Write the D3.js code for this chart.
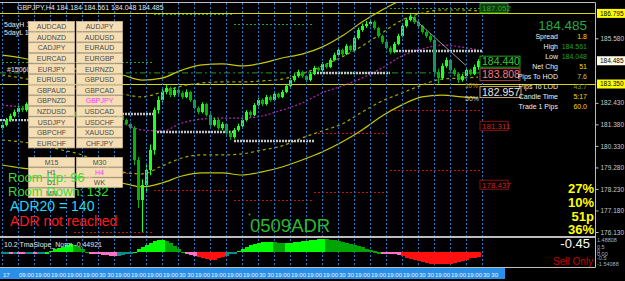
<!DOCTYPE html>
<html>
<head>
<meta charset="utf-8">
<script src="https://cdn.jsdelivr.net/npm/d3@7"></script>
<style>
  html, body { margin: 0; padding: 0; background: #000; }
  svg { display: block; font-family: "Liberation Sans", Arial, sans-serif; }
</style>
</head>
<body>
<div id="chart"></div>
<script>
// ---- data ----
const opens = [
  181.20,181.35,181.59,181.79,181.98,182.18,182.08,182.37,182.57,182.42,
  182.67,182.81,182.62,182.37,182.18,182.33,182.08,181.89,181.98,181.74,
  181.94,181.69,181.50,181.64,181.45,181.59,181.40,181.55,181.69,181.50,
  181.79,181.59,181.40,181.20,179.64,177.69,178.42,179.15,180.13,182.08,
  182.57,182.96,183.15,182.81,183.06,182.91,182.72,182.96,182.57,182.18,
  181.98,182.37,181.84,181.35,181.59,181.20,181.40,180.96,180.76,181.11,
  181.30,181.59,181.98,181.84,182.33,182.57,182.37,182.72,182.57,182.86,
  182.72,182.96,183.25,183.54,183.74,183.93,183.74,183.54,183.84,184.13,
  184.03,184.32,184.18,184.52,184.76,185.01,184.81,185.20,185.01,185.59,
  185.98,186.18,186.28,186.37,186.08,185.69,185.40,185.11,184.91,185.30,
  185.69,186.18,186.47,186.62,186.37,186.18,185.88,185.69,185.50,183.93,
  183.64,184.23,184.52,184.03,183.84,183.54,183.74,184.03,183.84,184.184
];
const highs = [
  181.48,181.70,181.90,182.10,182.30,182.28,182.45,182.70,182.66,182.78,
  182.95,182.88,182.68,182.45,182.42,182.38,182.15,182.08,182.02,182.03,
  181.99,181.76,181.73,181.70,181.68,181.63,181.62,181.78,181.74,181.88,
  181.85,181.66,181.47,181.30,179.80,178.70,179.40,180.40,182.20,182.75,
  183.10,183.30,183.22,183.18,183.14,183.00,183.08,183.02,182.64,182.26,
  182.46,182.42,181.92,181.70,181.66,181.50,181.46,181.05,181.20,181.42,
  181.68,182.08,182.06,182.42,182.68,182.64,182.82,182.80,182.95,182.93,
  183.06,183.36,183.65,183.86,184.05,184.00,183.80,183.94,184.24,184.20,
  184.42,184.38,184.62,184.88,185.12,185.08,185.30,185.26,185.70,186.10,
  186.30,186.42,186.52,186.45,186.14,185.76,185.48,185.20,185.40,185.80,
  186.28,186.58,186.76,186.70,186.44,186.24,185.96,185.78,185.58,184.10,
  184.36,184.64,184.58,184.12,183.90,183.84,184.14,184.10,184.30,184.561
];
const lows = [
  181.12,181.28,181.50,181.72,181.90,181.98,182.00,182.30,182.35,182.38,
  182.60,182.55,182.30,182.10,182.12,182.00,181.80,181.82,181.66,181.70,
  181.60,181.42,181.44,181.38,181.40,181.33,181.35,181.50,181.44,181.46,
  181.52,181.33,181.12,179.40,177.30,176.13,178.10,178.90,179.90,181.90,
  182.45,182.85,182.70,182.72,182.80,182.62,182.66,182.48,182.10,181.88,
  181.92,181.76,181.26,181.28,181.12,181.10,180.88,180.62,180.68,181.02,
  181.24,181.52,181.74,181.78,182.26,182.28,182.30,182.48,182.50,182.64,
  182.66,182.90,183.18,183.46,183.66,183.65,183.44,183.48,183.78,183.94,
  183.96,184.10,184.12,184.46,184.70,184.72,184.76,184.92,184.95,185.52,
  185.90,186.08,186.20,186.00,185.60,185.30,185.02,184.80,184.85,185.24,
  185.62,186.10,186.40,186.28,186.08,185.80,185.60,185.40,183.80,183.36,
  183.56,184.14,183.94,183.74,183.40,183.46,183.66,183.76,183.78,184.048
];
const closes = [
  181.35,181.59,181.79,181.98,182.18,182.08,182.37,182.57,182.42,182.67,
  182.81,182.62,182.37,182.18,182.33,182.08,181.89,181.98,181.74,181.94,
  181.69,181.50,181.64,181.45,181.59,181.40,181.55,181.69,181.50,181.79,
  181.59,181.40,181.20,179.64,177.69,178.42,179.15,180.13,182.08,182.57,
  182.96,183.15,182.81,183.06,182.91,182.72,182.96,182.57,182.18,181.98,
  182.37,181.84,181.35,181.59,181.20,181.40,180.96,180.76,181.11,181.30,
  181.59,181.98,181.84,182.33,182.57,182.37,182.72,182.57,182.86,182.72,
  182.96,183.25,183.54,183.74,183.93,183.74,183.54,183.84,184.13,184.03,
  184.32,184.18,184.52,184.76,185.01,184.81,185.20,185.01,185.59,185.98,
  186.18,186.28,186.37,186.08,185.69,185.40,185.11,184.91,185.30,185.69,
  186.18,186.47,186.62,186.37,186.18,185.88,185.69,185.50,183.93,183.64,
  184.23,184.52,184.03,183.84,183.54,183.74,184.03,183.84,184.18,184.485
];

// TMA bands, sampled at these bar indexes
const bandIdx = [0,5,10,15,20,25,30,35,40,45,50,55,60,65,70,75,80,85,90,95,100,105,110,115,119];
const bandUpper = [184.76,184.62,184.42,184.23,184.03,183.89,183.79,183.54,183.64,184.03,184.28,184.33,184.23,184.37,184.62,184.81,185.15,185.69,186.37,186.96,187.45,187.74,188.08,188.33,188.52];
const bandUpperMid = [183.79,183.64,183.45,183.25,183.06,182.96,182.86,182.72,182.96,183.25,183.40,183.45,183.45,183.50,183.59,183.84,184.23,184.67,185.20,185.84,186.47,186.81,186.96,186.96,186.91];
const bandMid = [182.33,182.23,182.18,182.08,181.94,181.74,181.45,181.11,181.06,181.45,181.64,181.69,181.69,181.79,182.08,182.42,182.91,183.25,183.64,184.13,184.72,185.06,185.25,185.15,185.01];
const bandLowerMid = [180.62,180.52,180.37,180.13,179.89,179.40,179.06,178.96,179.35,179.74,179.89,179.89,179.94,180.13,180.33,180.72,181.06,181.40,181.98,182.52,182.91,183.30,183.59,183.64,183.69];
const bandLower = [179.40,179.25,179.15,179.01,178.86,178.67,178.52,178.33,178.52,178.86,179.01,179.01,178.91,179.06,179.30,179.64,180.03,180.52,181.11,181.79,182.33,182.72,182.81,182.72,182.67];

// period levels: segment borders in bars, one set of levels per segment
const segBounds = [-2, 18, 38, 58, 78, 97, 120];
const grayLevels = [181.59, 181.89, 181.01, 180.57, 183.89, 184.96];
const redLevels = [[], [179.01, 176.13], [178.18], [177.69], [180.96, 178.08], [182.08, 179.15]];
const greenLevels = [[184.42], [184.42], [186.76], [186.28], [], [187.05]];
const fullLines = [186.795, 183.350];
const pivotLine = 183.89;
const trendLine = [[102.5, 186.62], [116, 184.25]];

const boxPrices = [187.052, 184.440, 183.808, 182.957, 181.311, 178.437];
const priceTicks = [176.130, 177.180, 178.230, 179.280, 180.330, 181.380, 182.430, 185.580];
const markedPrices = [186.795, 184.485, 183.350];

// TmaSlope_Norm histogram
const slope = [
  -0.15,-0.12,-0.18,-0.10,-0.14,-0.20,-0.16,-0.10,-0.13,-0.08,
  -0.05,0.02,0.15,0.30,0.45,0.60,0.75,0.85,0.80,0.55,
  0.30,0.05,-0.08,-0.15,-0.20,-0.25,-0.30,-0.35,-0.38,-0.35,
  -0.30,-0.20,-0.10,0.05,0.30,0.55,0.80,1.00,1.15,1.25,
  1.30,1.20,1.00,0.70,0.35,0.05,-0.15,-0.25,-0.35,-0.45,
  -0.60,-0.75,-0.85,-0.80,-0.65,-0.50,-0.35,-0.20,-0.05,0.15,
  0.35,0.55,0.75,0.90,1.00,1.05,1.10,1.10,1.05,1.00,
  0.95,0.95,1.00,1.05,1.10,1.15,1.20,1.25,1.30,1.35,
  1.38,1.35,1.30,1.25,1.20,1.10,1.00,0.90,0.80,0.65,
  0.50,0.35,0.20,0.10,0.02,-0.05,-0.12,-0.18,-0.22,-0.28,
  -0.40,-0.55,-0.70,-0.85,-0.95,-1.05,-1.12,-1.18,-1.22,-1.25,
  -1.25,-1.22,-1.18,-1.10,-1.00,-0.90,-0.78,-0.65,-0.55,-0.45
];
const slopeLabels = ["1.48808", "0.5", "0", "0.00", "-0.5", "-1.54088"];
const slopeLabelValues = [1.3, 0.55, 0.15, -0.2, -0.65, -1.25];

const timeLabels = ["17","09:00","19:00","19:00","19:00","19:00","30 30","19:00","19:00","19:00",
  "19:00","30 30","19:00","19:00","19:00","19:00","30 30","19:00","19:00","19:00",
  "19:00","30 30","19:00","19:00","19:00","19:00","30 30","19:00","19:00","19:00","30 30"];

const pairsLeft = ["AUDCAD","AUDNZD","CADJPY","EURCAD","EURJPY","EURUSD","GBPAUD","GBPNZD","NZDUSD","USDJPY","GBPCHF","EURCHF"];
const pairsRight = ["AUDJPY","AUDUSD","EURAUD","EURGBP","EURNZD","GBPUSD","GBPCAD","GBPJPY","USDCAD","USDCHF","XAUUSD","CHFJPY"];
const tfLeft = ["M15","H1","D1","MN"];
const tfRight = ["M30","H4","WK"];
const activePair = "GBPJPY", activeTf = "H4";

const infoLabels = ["Spread","High","Low","Net Chg","Pips To HOD","Pips To LOD","Candle Time","Trade 1 Pips"];
const infoValues = ["1.8","184.561","184.048","51","7.6","43.7","5:17","60.0"];
const statTexts = ["Room Up: 96","Room Down: 132","ADR20 = 140","ADR not reached"];
const pctTexts = ["27%","10%","51p","36%"];

// ---- drawing ----
const W = 625, H = 281;
const svg = d3.select('#chart').append('svg').attr('width', W).attr('height', H);
svg.append('rect').attr('width', W).attr('height', H).attr('fill', '#000');

const defs = svg.append('defs');
defs.append('clipPath').attr('id', 'clipMain')
  .append('rect').attr('x', 0).attr('y', 3).attr('width', 595).attr('height', 234);
defs.append('clipPath').attr('id', 'clipInd')
  .append('rect').attr('x', 0).attr('y', 238).attr('width', 595).attr('height', 29);

const x = d3.scaleLinear().domain([0, closes.length - 1]).range([2, 478]);
const y = d3.scaleLinear().domain([176.13, 185.58]).range([232, 38.3]);
const yInd = d3.scaleLinear().domain([-1.54088, 1.48808]).range([267, 238]);

const main = svg.append('g').attr('clip-path', 'url(#clipMain)');

// vertical dotted grid (through both panes)
const gridBars = d3.range(0, closes.length + 1, 4);
svg.append('g').selectAll('line').data(gridBars).join('line')
  .attr('x1', d => Math.round(x(d)) + 0.5).attr('x2', d => Math.round(x(d)) + 0.5)
  .attr('y1', 3).attr('y2', 267)
  .attr('stroke', '#2277cc').attr('stroke-width', 1).attr('stroke-dasharray', '2,2');

// full-width yellow levels
main.selectAll('.full').data(fullLines).join('line')
  .attr('x1', 0).attr('x2', 595)
  .attr('y1', d => Math.round(y(d)) + 0.5).attr('y2', d => Math.round(y(d)) + 0.5)
  .attr('stroke', '#d8d800').attr('stroke-width', 1.2);

// pivot dash-dot
main.append('line').attr('x1', 0).attr('x2', x(119) + 2)
  .attr('y1', y(pivotLine)).attr('y2', y(pivotLine))
  .attr('stroke', '#1f7a1f').attr('stroke-width', 1.2).attr('stroke-dasharray', '6,3,2,3');

// period segments
function segLines(levelsPerSeg, stroke, width, dash) {
  const rows = [];
  levelsPerSeg.forEach((lv, k) => lv.forEach(p => rows.push({ k, p })));
  main.append('g').selectAll('line').data(rows).join('line')
    .attr('x1', d => x(segBounds[d.k])).attr('x2', d => x(segBounds[d.k + 1]))
    .attr('y1', d => Math.round(y(d.p)) + 0.5).attr('y2', d => Math.round(y(d.p)) + 0.5)
    .attr('stroke', stroke).attr('stroke-width', width).attr('stroke-dasharray', dash);
}
segLines(redLevels, '#c81414', 1.2, '2,2');
segLines(greenLevels, '#24a524', 1.2, '2,2');

// bands
const bandLine = vals => d3.line()
  .x((d, i) => x(bandIdx[i])).y(d => y(d)).curve(d3.curveMonotoneX)(vals);
const bands = [
  { v: bandUpper, dash: null, c: '#c8c800' },
  { v: bandUpperMid, dash: '3,3', c: '#a8a800' },
  { v: bandMid, dash: '2,2', c: '#c020c0' },
  { v: bandLowerMid, dash: '3,3', c: '#a8a800' },
  { v: bandLower, dash: null, c: '#c8c800' }
];
main.append('g').selectAll('path').data(bands).join('path')
  .attr('d', d => bandLine(d.v)).attr('fill', 'none')
  .attr('stroke', d => d.c).attr('stroke-width', 1.2)
  .attr('stroke-dasharray', d => d.dash);

// gray period opens
main.append('g').selectAll('line').data(grayLevels).join('line')
  .attr('x1', (d, k) => x(segBounds[k])).attr('x2', (d, k) => x(segBounds[k + 1]))
  .attr('y1', d => y(d)).attr('y2', d => y(d))
  .attr('stroke', '#c4c4c4').attr('stroke-width', 2.4).attr('stroke-dasharray', '2,1');

// candles
const bars = closes.map((c, i) => ({ i, o: opens[i], h: highs[i], l: lows[i], c }));
const candle = main.append('g').selectAll('g').data(bars).join('g');
candle.append('line')
  .attr('x1', d => Math.round(x(d.i)) + 0.5).attr('x2', d => Math.round(x(d.i)) + 0.5)
  .attr('y1', d => y(d.h)).attr('y2', d => y(d.l))
  .attr('stroke', d => d.c >= d.o ? '#22ff22' : '#00b400');
candle.append('rect')
  .attr('x', d => Math.round(x(d.i)) - 1).attr('width', 3)
  .attr('y', d => y(Math.max(d.o, d.c)))
  .attr('height', d => Math.max(1, Math.abs(y(d.o) - y(d.c))))
  .attr('fill', d => d.c >= d.o ? '#22ff22' : '#00b400')
  .attr('shape-rendering', 'crispEdges');

// trend line
main.append('line')
  .attr('x1', x(trendLine[0][0])).attr('y1', y(trendLine[0][1]))
  .attr('x2', x(trendLine[1][0])).attr('y2', y(trendLine[1][1]))
  .attr('stroke', '#9a9a9a').attr('stroke-width', 1);

// right-side price boxes
const boxStyle = [
  { fill: '#0e3a0e', stroke: '#1f8f1f', color: '#2bb02b', size: 8, w: 28, h: 9 },
  { fill: '#000', stroke: '#1fa01f', color: '#33cc33', size: 10.5, w: 40, h: 11 },
  { fill: '#000', stroke: '#a04848', color: '#ff7878', size: 10.5, w: 40, h: 12 },
  { fill: '#000', stroke: '#c8a878', color: '#e8e8e8', size: 10.5, w: 41, h: 11 },
  { fill: '#000', stroke: '#8b1010', color: '#cc2424', size: 8, w: 28, h: 9 },
  { fill: '#000', stroke: '#8b1010', color: '#cc2424', size: 8, w: 28, h: 9 }
];
const boxG = svg.append('g').selectAll('g').data(boxPrices).join('g')
  .attr('transform', d => `translate(480,${y(d)})`);
boxG.append('rect')
  .attr('x', 0).attr('y', (d, i) => -boxStyle[i].h / 2)
  .attr('width', (d, i) => boxStyle[i].w).attr('height', (d, i) => boxStyle[i].h)
  .attr('fill', (d, i) => boxStyle[i].fill).attr('stroke', (d, i) => boxStyle[i].stroke);
boxG.append('text')
  .attr('x', 2).attr('y', (d, i) => boxStyle[i].size * 0.36)
  .attr('font-size', (d, i) => boxStyle[i].size)
  .attr('fill', (d, i) => boxStyle[i].color)
  .text(d => d3.format('.3f')(d));

svg.append('text').attr('x', 465).attr('y', 88).attr('font-size', 6.5).attr('fill', '#c89a3a').text('10%');
svg.append('text').attr('x', 465).attr('y', 101).attr('font-size', 7).attr('fill', '#c8c8c8').text('50%');

// top-left info
svg.append('text').attr('x', 17).attr('y', 9.5).attr('font-size', 7).attr('fill', '#e6e6e6')
  .text('GBPJPY,H4  184.184 184.561 184.048 184.485');
svg.append('text').attr('x', 4).attr('y', 27).attr('font-size', 7).attr('fill', '#e6e6e6').text('5dayH 186.795');
svg.append('text').attr('x', 4).attr('y', 35).attr('font-size', 7).attr('fill', '#e6e6e6').text('5dayL 176.125');
svg.append('text').attr('x', 7).attr('y', 72).attr('font-size', 7).attr('fill', '#e6e6e6').text('#150600');

// symbol buttons
function buttons(list, x0, y0, rowH, active) {
  const g = svg.append('g').selectAll('g').data(list).join('g')
    .attr('transform', (d, i) => `translate(${x0},${y0 + i * rowH})`);
  g.append('rect').attr('width', 46).attr('height', rowH - 0.8)
    .attr('fill', '#f5deb3').attr('stroke', '#cbb998').attr('stroke-width', 0.8);
  g.append('text').attr('x', 23).attr('y', rowH / 2 + 2.5).attr('text-anchor', 'middle')
    .attr('font-size', 7).attr('fill', d => d === active ? '#ff33ff' : '#4a4a4a').text(d => d);
}
buttons(pairsLeft, 28.5, 21.5, 10.6, activePair);
buttons(pairsRight, 76.5, 21.5, 10.6, activePair);
buttons(tfLeft, 28.5, 157.5, 10.2, activeTf);
buttons(tfRight, 76.5, 157.5, 10.2, activeTf);

// left stats
const statStyle = [
  { c: '#33dd33', s: 13, y: 182 }, { c: '#33dd33', s: 13, y: 196 },
  { c: '#22d8ff', s: 14, y: 211 }, { c: '#ff1a1a', s: 14, y: 226 }
];
svg.append('g').selectAll('text').data(statTexts).join('text')
  .attr('x', (d, i) => i < 2 ? 8 : 10).attr('y', (d, i) => statStyle[i].y)
  .attr('font-size', (d, i) => statStyle[i].s).attr('fill', (d, i) => statStyle[i].c)
  .text(d => d);

svg.append('circle').attr('cx', 249.5).attr('cy', 214.5).attr('r', 1).attr('fill', '#2db82d');
svg.append('text').attr('x', 250).attr('y', 232).attr('font-size', 18.5).attr('fill', '#2db82d').text('0509ADR');

// right info panel
svg.append('text').attr('x', 587).attr('y', 30).attr('text-anchor', 'end')
  .attr('font-size', 13.5).attr('fill', '#27a844').text('184.485');
const valColor = ['#ffd700', '#22a022', '#22a022', '#ffd700', '#d0c060', '#7a9a30', '#ffd700', '#ffd700'];
const infoY = [38.5, 48.5, 58.5, 69, 79, 89, 99, 108.5];
svg.append('g').selectAll('text').data(infoLabels).join('text')
  .attr('x', 558).attr('y', (d, i) => infoY[i]).attr('text-anchor', 'end')
  .attr('font-size', 7).attr('fill', '#eeeeee').text(d => d);
svg.append('g').selectAll('text').data(infoValues).join('text')
  .attr('x', 587).attr('y', (d, i) => infoY[i]).attr('text-anchor', 'end')
  .attr('font-size', 7).attr('fill', (d, i) => valColor[i]).text(d => d);

svg.append('g').selectAll('text').data(pctTexts).join('text')
  .attr('x', 594).attr('y', (d, i) => 193 + i * 13.8).attr('text-anchor', 'end')
  .attr('font-size', 13).attr('font-weight', 'bold').attr('fill', '#ffff00').text(d => d);

// indicator pane
const ind = svg.append('g').attr('clip-path', 'url(#clipInd)');
function slopeColor(v, i) {
  const prev = i > 0 ? slope[i - 1] : v;
  if (v >= 0) return v >= prev ? '#00ff00' : '#00a400';
  if (v < -0.38) return '#ff1010';
  return v < prev ? '#ff70c8' : '#0a8c8c';
}
ind.selectAll('rect').data(slope).join('rect')
  .attr('x', (d, i) => Math.round(x(i)) - 1.5).attr('width', 4)
  .attr('y', d => Math.min(yInd(0), yInd(d)))
  .attr('height', d => Math.max(1.5, Math.abs(yInd(d) - yInd(0))))
  .attr('fill', (d, i) => slopeColor(d, i))
  .attr('shape-rendering', 'crispEdges');
svg.append('text').attr('x', 4).attr('y', 247).attr('font-size', 7).attr('fill', '#e6e6e6')
  .text('10.2 TmaSlope_Norm -0.44921');
svg.append('text').attr('x', 590).attr('y', 248).attr('text-anchor', 'end')
  .attr('font-size', 13).attr('fill', '#ffffff').text('-0.45');
svg.append('text').attr('x', 593).attr('y', 265).attr('text-anchor', 'end')
  .attr('font-size', 10).attr('fill', '#cc0000').text('Sell Only');
svg.append('g').selectAll('text').data(slopeLabels).join('text')
  .attr('x', 597).attr('y', (d, i) => yInd(slopeLabelValues[i]) + 2)
  .attr('font-size', 5.5).attr('fill', '#9fb4c8').text(d => d);

// frame
const frame = svg.append('g').attr('stroke', '#bdbdbd').attr('fill', 'none');
frame.append('line').attr('x1', 0).attr('x2', 595.5).attr('y1', 2.5).attr('y2', 2.5);
frame.append('line').attr('x1', 0).attr('x2', 595.5).attr('y1', 237).attr('y2', 237).attr('stroke-width', 2);
frame.append('line').attr('x1', 0).attr('x2', 595.5).attr('y1', 267.5).attr('y2', 267.5);
frame.append('line').attr('x1', 595.5).attr('x2', 595.5).attr('y1', 2.5).attr('y2', 267.5);

// price axis
const axis = svg.append('g').attr('transform', 'translate(595.5,0)')
  .call(d3.axisRight(y).tickValues(priceTicks).tickSize(3).tickPadding(2).tickFormat(d3.format('.3f')));
axis.select('.domain').remove();
axis.selectAll('line').attr('stroke', '#bdbdbd');
axis.selectAll('text').attr('fill', '#c8c8c8').attr('font-size', 6.5)
  .attr('font-family', '"Liberation Sans", Arial, sans-serif');

const markFill = ['#ffff00', '#fffbe6', '#ffff00'];
const mark = svg.append('g').selectAll('g').data(markedPrices).join('g')
  .attr('transform', d => `translate(597,${y(d)})`);
mark.append('rect').attr('x', 0).attr('y', -4.5).attr('width', 28).attr('height', 9)
  .attr('fill', (d, i) => markFill[i]);
mark.append('text').attr('x', 3).attr('y', 2.4).attr('font-size', 6.5).attr('fill', '#000')
  .text(d => d3.format('.3f')(d));

// time axis
svg.append('rect').attr('x', 0).attr('y', 268).attr('width', 505).attr('height', 11).attr('fill', '#2a8fe6');
svg.append('g').selectAll('text').data(timeLabels).join('text')
  .attr('x', (d, i) => Math.round(x(gridBars[i])) + 1).attr('y', 276.5)
  .attr('font-size', 6).attr('fill', '#f0f6ff').text(d => d);
</script>
</body>
</html>
